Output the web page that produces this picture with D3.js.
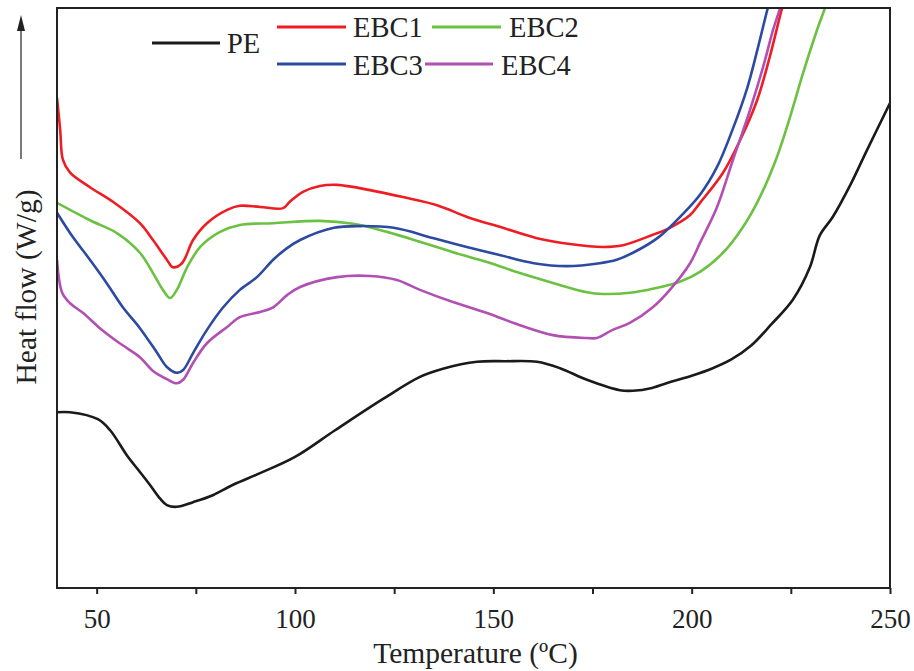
<!DOCTYPE html>
<html>
<head>
<meta charset="utf-8">
<script src="https://cdn.jsdelivr.net/npm/d3@7"></script>
<style>
  html, body { margin: 0; padding: 0; background: #fff; }
  svg { display: block; font-family: "Liberation Serif", "Times New Roman", serif; }
</style>
</head>
<body>
<svg id="chart" width="914" height="671"></svg>
<script>
// DSC heating curves, heat flow in arbitrary units (endo down)
const seriesNames = ["PE", "EBC1", "EBC2", "EBC3", "EBC4"];
const seriesColors = ["#1a1a1a", "#ee1d23", "#6cc142", "#2d4aa1", "#b24fb3"];

const peTemp = [40, 43.3, 50.3, 53.4, 57.6, 60.9, 63.4, 66, 67.7, 70.2, 74.3, 79.3, 84.4, 91.2, 100, 110.1, 122.2, 131.5, 137.3, 145.9, 153, 161, 166.8, 173.6, 181.9, 185.2, 190, 195, 200, 205, 210, 215, 220, 225.5, 229.8, 232.3, 235.6, 240, 244.2, 250];
const peFlow = [30.3, 30.3, 29.1, 27.2, 22.9, 20.0, 17.8, 15.4, 14.3, 14.0, 14.8, 16.0, 17.8, 19.8, 22.6, 27.2, 32.6, 36.4, 37.8, 39.0, 39.1, 39.0, 37.9, 35.9, 34.1, 34.0, 34.5, 35.6, 36.6, 37.8, 39.4, 41.8, 45.4, 49.7, 55.3, 60.8, 64.0, 69.5, 75.5, 83.6];

const ebc1Temp = [40, 40.8, 41.5, 43.3, 48.3, 54.1, 60.9, 64.2, 67.7, 69.2, 71.5, 74.3, 77.8, 82.9, 86.1, 91.2, 97, 98.7, 102, 106.3, 110.6, 118.9, 127.2, 135.8, 144.1, 152.4, 161, 169.3, 177.6, 182.7, 190.2, 194.5, 199.6, 202.1, 207.9, 212.2, 216.5, 219.7, 222.8, 224.5];
const ebc1Flow = [84.5, 79.0, 73.8, 71.6, 69.1, 66.6, 62.9, 60.0, 56.6, 55.3, 56.0, 60.0, 62.9, 65.2, 65.9, 65.7, 65.5, 66.6, 68.3, 69.3, 69.5, 68.6, 67.4, 66.0, 63.8, 62.1, 60.3, 59.3, 58.8, 59.1, 60.9, 62.1, 64.3, 66.4, 71.6, 77.2, 84.1, 91.6, 100, 104];

const ebc2Temp = [40, 48.3, 55.1, 60.9, 64.2, 66.7, 68.5, 70.2, 72.8, 76.1, 81.1, 86.1, 94.5, 106.3, 114.6, 123.2, 131.5, 139.8, 148.4, 156.7, 165, 173.6, 177.6, 184.4, 190.2, 197, 202.1, 207.9, 212.9, 217.2, 221.5, 224.8, 228.1, 231.6, 233.6, 235];
const ebc2Flow = [66.4, 63.4, 61.2, 57.8, 54.3, 51.4, 50.0, 51.4, 55.3, 58.8, 61.4, 62.6, 62.9, 63.3, 62.8, 61.4, 59.7, 57.9, 56.2, 54.3, 52.6, 51.0, 50.7, 50.9, 51.6, 52.8, 54.5, 57.8, 62.2, 67.4, 74.3, 81.2, 88.8, 96.2, 100, 103];

const ebc3Temp = [40, 44, 48.3, 52.5, 56.6, 60.9, 65.1, 67.7, 70.2, 71.8, 74.3, 77.8, 81.9, 86.1, 90.4, 94.5, 98, 101.3, 109.8, 116.4, 124.9, 135, 143.3, 151.6, 160.2, 168.5, 176.8, 181.1, 185.2, 191.7, 197.8, 202.1, 206.4, 210.4, 214, 216.5, 219.2, 220.5];
const ebc3Flow = [64.7, 60.5, 56.6, 52.6, 48.4, 44.8, 40.7, 38.1, 37.1, 37.6, 40.5, 44.5, 48.4, 51.4, 53.6, 56.6, 58.6, 60.0, 62.1, 62.4, 62.1, 60.3, 58.8, 57.4, 56.0, 55.5, 56.0, 56.6, 57.8, 60.5, 64.5, 67.8, 72.6, 79.2, 86.2, 92.6, 100, 103];

const ebc4Temp = [40, 41.3, 43.3, 46.6, 50.8, 55.8, 60.9, 64.2, 67.7, 70.2, 71.8, 74.3, 77.8, 82.9, 86.1, 91.2, 94.5, 98, 101.3, 110.6, 118.9, 125.7, 131.5, 139.8, 148.4, 156.7, 165, 173.6, 176.1, 180.1, 184.4, 190.2, 194.5, 199.6, 202.1, 206.4, 210.4, 214.7, 218, 220.5, 222.3, 223.5];
const ebc4Flow = [56.6, 50.9, 49.1, 47.4, 44.8, 42.2, 39.8, 37.4, 36.0, 35.3, 35.9, 38.8, 42.2, 45.0, 46.7, 47.6, 48.4, 50.5, 51.9, 53.6, 53.8, 53.1, 51.4, 49.3, 47.4, 45.3, 43.6, 43.1, 43.1, 44.5, 45.7, 48.4, 51.4, 56.0, 59.5, 65.7, 73.8, 82.4, 89.8, 96.2, 100, 103];

const xTickValues = [50, 75, 100, 125, 150, 175, 200, 225, 250];
const xLabelValues = [50, 100, 150, 200, 250];

const seriesTemps = [peTemp, ebc1Temp, ebc2Temp, ebc3Temp, ebc4Temp];
const seriesFlows = [peFlow, ebc1Flow, ebc2Flow, ebc3Flow, ebc4Flow];

const svg = d3.select("#chart");
const margin = { left: 57, right: 24, top: 8, bottom: 83 };
const W = 914, H = 671;
const plotW = W - margin.left - margin.right;
const plotH = H - margin.top - margin.bottom;

const x = d3.scaleLinear().domain([40, 250]).range([margin.left, margin.left + plotW]);
const y = d3.scaleLinear().domain([0, 100]).range([margin.top + plotH, margin.top]);

svg.append("defs").append("clipPath").attr("id", "plot-clip")
  .append("rect")
  .attr("x", margin.left).attr("y", margin.top)
  .attr("width", plotW).attr("height", plotH);

// curves
const line = d3.line()
  .x(d => x(d[0]))
  .y(d => y(d[1]))
  .curve(d3.curveCatmullRom.alpha(0.5));

const curves = svg.append("g").attr("clip-path", "url(#plot-clip)");
seriesNames.forEach((name, i) => {
  const pts = seriesTemps[i].map((t, k) => [t, seriesFlows[i][k]]);
  curves.append("path")
    .datum(pts)
    .attr("fill", "none")
    .attr("stroke", seriesColors[i])
    .attr("stroke-width", 2.6)
    .attr("stroke-linejoin", "round")
    .attr("d", line);
});

// frame
svg.append("rect")
  .attr("x", margin.left).attr("y", margin.top)
  .attr("width", plotW).attr("height", plotH)
  .attr("fill", "none")
  .attr("stroke", "#222")
  .attr("stroke-width", 2);

// bottom axis
const xAxis = d3.axisBottom(x)
  .tickValues(xTickValues)
  .tickSize(6)
  .tickSizeOuter(0)
  .tickFormat(d => xLabelValues.includes(d) ? String(d) : "");

const gx = svg.append("g")
  .attr("transform", `translate(0,${margin.top + plotH})`)
  .call(xAxis);
gx.select(".domain").remove();
gx.selectAll(".tick line").attr("stroke", "#222").attr("stroke-width", 2);
gx.selectAll(".tick text")
  .attr("fill", "#222")
  .attr("font-family", "Liberation Serif, serif")
  .attr("font-size", 27)
  .attr("dy", null)
  .attr("y", 40);

// axis titles
svg.append("text")
  .attr("x", margin.left + plotW / 2 + 2)
  .attr("y", 663)
  .attr("text-anchor", "middle")
  .attr("font-size", 29.5)
  .attr("fill", "#222")
  .text("Temperature (ºC)");

svg.append("text")
  .attr("transform", "translate(36,287) rotate(-90)")
  .attr("text-anchor", "middle")
  .attr("font-size", 29.5)
  .attr("fill", "#222")
  .text("Heat flow (W/g)");

// upward arrow beside the y title
svg.append("line")
  .attr("x1", 21).attr("x2", 21)
  .attr("y1", 159).attr("y2", 28)
  .attr("stroke", "#333").attr("stroke-width", 1.3);
svg.append("path")
  .attr("d", "M21,15 L25,31 L17,31 Z")
  .attr("fill", "#222");

// legend
const legendItems = [
  { i: 0, x1: 152, x2: 220, y: 43, tx: 227, ty: 53 },
  { i: 1, x1: 277, x2: 346, y: 27, tx: 353, ty: 37 },
  { i: 2, x1: 432, x2: 501, y: 27, tx: 509, ty: 37 },
  { i: 3, x1: 277, x2: 346, y: 64, tx: 353, ty: 75 },
  { i: 4, x1: 425, x2: 493, y: 64, tx: 501, ty: 75 }
];
const lg = svg.append("g");
legendItems.forEach(it => {
  lg.append("line")
    .attr("x1", it.x1).attr("x2", it.x2)
    .attr("y1", it.y).attr("y2", it.y)
    .attr("stroke", seriesColors[it.i])
    .attr("stroke-width", it.i === 0 ? 3.2 : 2.8);
  lg.append("text")
    .attr("x", it.tx).attr("y", it.ty)
    .attr("font-size", 28.5)
    .attr("fill", "#222")
    .text(seriesNames[it.i]);
});
</script>
</body>
</html>
